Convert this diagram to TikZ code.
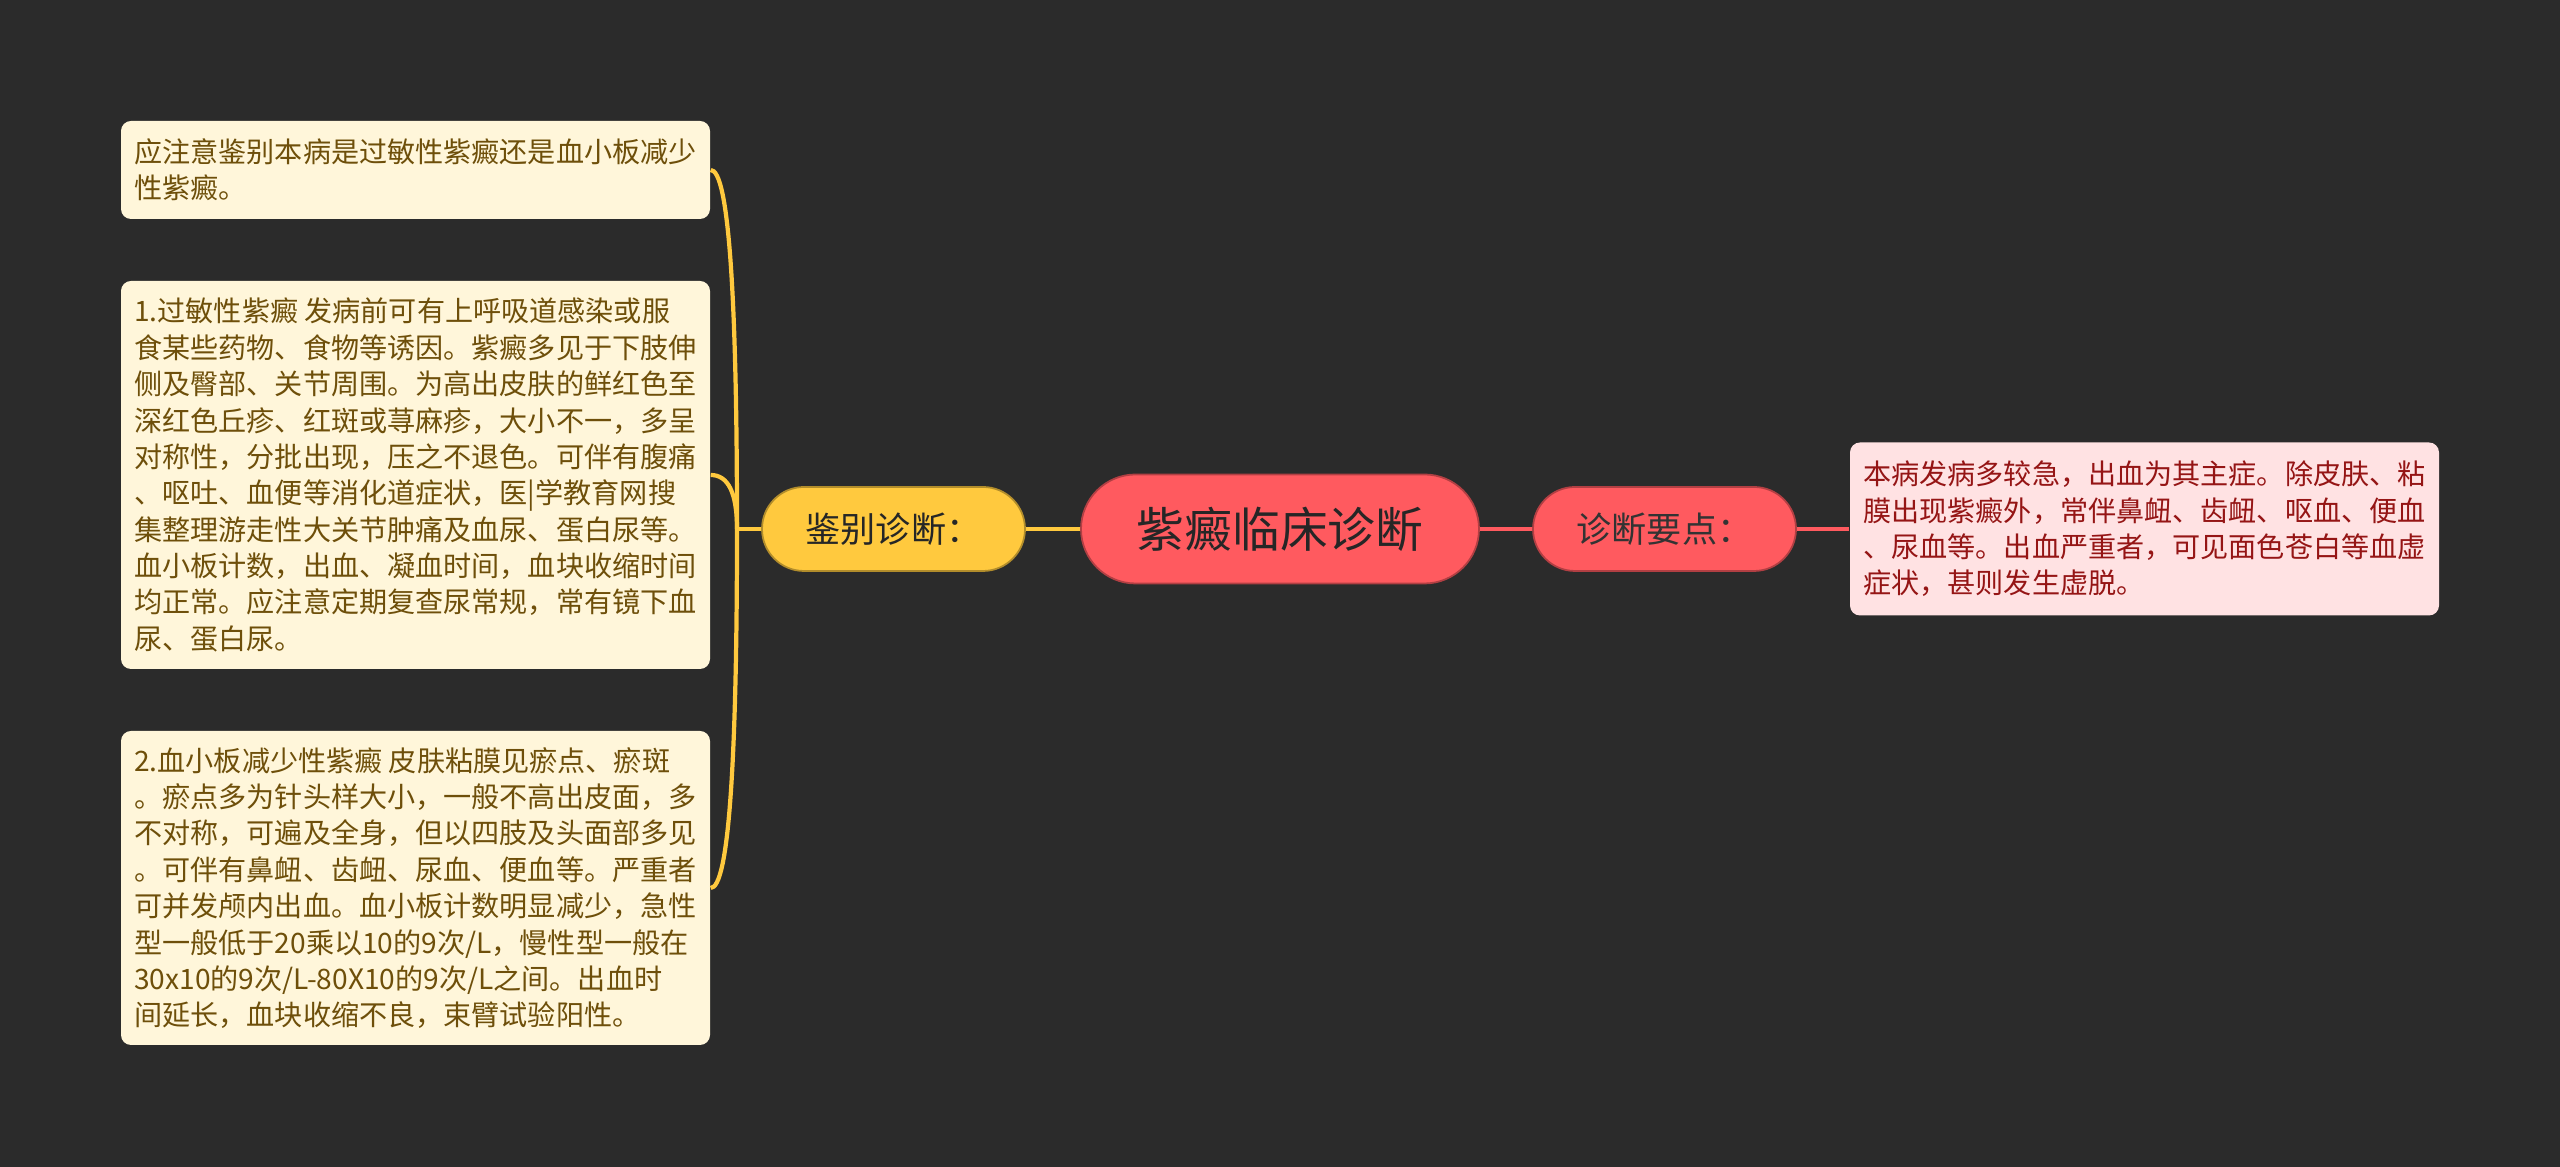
\documentclass[tikz,border=0pt]{standalone}
\usepackage{fontspec}
\setmainfont{Noto Sans CJK SC}
\usetikzlibrary{calc}
\definecolor{bgc}{HTML}{2B2B2B}
\definecolor{ylw}{HTML}{FFC93E}
\definecolor{rd}{HTML}{FF5A5F}
\definecolor{cream}{HTML}{FFF6DA}
\definecolor{brn}{HTML}{6E4F0A}
\definecolor{pnk}{HTML}{FFE2E3}
\definecolor{drd}{HTML}{951515}
\begin{document}
\begin{tikzpicture}[
  pill/.style={rounded corners=0.42cm, minimum width=2.63cm, minimum height=0.84cm, inner sep=0pt, line width=0.5pt, font=\fontsize{10}{12}\selectfont},
  note/.style={rounded corners=0.1cm, minimum width=5.89cm, align=left, inner sep=0pt, font=\fontsize{8}{10.35}\selectfont},
  yl/.style={draw=ylw, line width=1.2pt},
  rl/.style={draw=rd, line width=1.2pt}]
\fill[bgc] (0,0) rectangle (25.6,11.67);
\useasboundingbox (0,0) rectangle (25.6,11.67);

\node[rounded corners=0.545cm, minimum width=3.98cm, minimum height=1.09cm, fill=rd, draw=rd!70!black, line width=0.5pt, text=black!85, font=\fontsize{13.6}{16}\selectfont] (root) at (12.80,6.38) {紫癜临床诊断};
\node[pill, fill=ylw, draw=ylw!70!black, text=black!85] (jb) at (8.935,6.38) {鉴别诊断：};
\node[pill, fill=rd, draw=rd!70!black, text=black!80] (yd) at (16.645,6.38) {诊断要点：};

\node[note, fill=cream, text=brn, minimum height=0.98cm] (n1) at (4.155,9.97) {应注意鉴别本病是过敏性紫癜还是血小板减少\\性紫癜。};
\node[note, fill=cream, text=brn, minimum height=3.88cm] (n2) at (4.155,6.92) {1.过敏性紫癜 发病前可有上呼吸道感染或服\\
食某些药物、食物等诱因。紫癜多见于下肢伸\\
侧及臀部、关节周围。为高出皮肤的鲜红色至\\
深红色丘疹、红斑或荨麻疹，大小不一，多呈\\
对称性，分批出现，压之不退色。可伴有腹痛\\
、呕吐、血便等消化道症状，医|学教育网搜\\
集整理游走性大关节肿痛及血尿、蛋白尿等。\\
血小板计数，出血、凝血时间，血块收缩时间\\
均正常。应注意定期复查尿常规，常有镜下血\\
尿、蛋白尿。};
\node[note, fill=cream, text=brn, minimum height=3.14cm] (n3) at (4.155,2.79) {2.血小板减少性紫癜 皮肤粘膜见瘀点、瘀斑\\
。瘀点多为针头样大小，一般不高出皮面，多\\
不对称，可遍及全身，但以四肢及头面部多见\\
。可伴有鼻衄、齿衄、尿血、便血等。严重者\\
可并发颅内出血。血小板计数明显减少，急性\\
型一般低于20乘以10的9次/L，慢性型一般在\\
30x10的9次/L-80X10的9次/L之间。出血时\\
间延长，血块收缩不良，束臂试验阳性。};
\node[note, fill=pnk, text=drd, minimum height=1.73cm] (nr) at (21.445,6.38) {本病发病多较急，出血为其主症。除皮肤、粘\\
膜出现紫癜外，常伴鼻衄、齿衄、呕血、便血\\
、尿血等。出血严重者，可见面色苍白等血虚\\
症状，甚则发生虚脱。};

\coordinate (sp) at (7.37,6.38);
\draw[yl] (jb.west) -- (sp);
\foreach \b in {n1,n2,n3} {
  \coordinate (k) at (sp |- \b.east);
  \draw[yl] (sp) .. controls ($(sp)!0.667!(k)$) and ($(\b.east)!0.667!(k)$) .. (\b.east);
}
\draw[yl] (jb.east) -- (root.west);
\draw[rl] (root.east) -- (yd.west);
\draw[rl] (yd.east) -- (nr.west);
\end{tikzpicture}
\end{document}
